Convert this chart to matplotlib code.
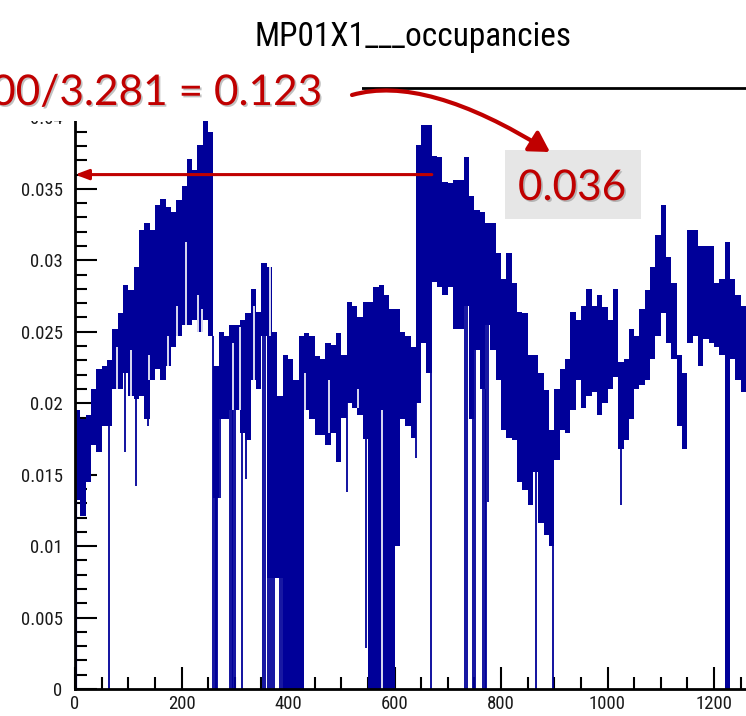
import matplotlib
matplotlib.use("Agg")
import matplotlib.pyplot as plt
import numpy as np
from matplotlib import font_manager
from matplotlib.font_manager import FontProperties
from matplotlib.patches import Rectangle, FancyArrowPatch
from matplotlib.path import Path
import matplotlib.patheffects as pe

# ---------------- data ----------------
title = "MP01X1___occupancies"
block_width = 10
channel_edges = list(range(0, 1270, 10))  # 126 blocks of 10 channels

# upper / lower envelope of the occupancy in each 10-channel block
occ_high = [
    0.0195, 0.0189, 0.0192, 0.0210, 0.0224, 0.0226, 0.0230, 0.0252, 0.0263, 0.0283,
    0.0279, 0.0295, 0.0321, 0.0326, 0.0321, 0.0339, 0.0343, 0.0337, 0.0334, 0.0342,
    0.0352, 0.0371, 0.0363, 0.0381, 0.0398, 0.0390, 0.0226, 0.0250, 0.0247, 0.0255,
    0.0255, 0.0258, 0.0263, 0.0280, 0.0264, 0.0298, 0.0295, 0.0250, 0.0205, 0.0234,
    0.0231, 0.0216, 0.0247, 0.0249, 0.0247, 0.0233, 0.0231, 0.0242, 0.0241, 0.0249,
    0.0234, 0.0271, 0.0268, 0.0260, 0.0271, 0.0271, 0.0281, 0.0283, 0.0276, 0.0266,
    0.0266, 0.0250, 0.0247, 0.0239, 0.0381, 0.0395, 0.0395, 0.0373, 0.0372, 0.0355,
    0.0354, 0.0356, 0.0356, 0.0372, 0.0345, 0.0335, 0.0334, 0.0326, 0.0326, 0.0305,
    0.0287, 0.0305, 0.0284, 0.0264, 0.0263, 0.0234, 0.0234, 0.0221, 0.0209, 0.0181,
    0.0210, 0.0224, 0.0231, 0.0264, 0.0258, 0.0268, 0.0280, 0.0268, 0.0276, 0.0267,
    0.0258, 0.0280, 0.0229, 0.0231, 0.0252, 0.0247, 0.0266, 0.0279, 0.0295, 0.0318,
    0.0339, 0.0302, 0.0284, 0.0234, 0.0221, 0.0321, 0.0321, 0.0310, 0.0310, 0.0310,
    0.0284, 0.0287, 0.0313, 0.0287, 0.0276, 0.0268,
]
occ_low = [
    0.0132, 0.0121, 0.0145, 0.0171, 0.0166, 0.0184, 0.0184, 0.0210, 0.0210, 0.0221,
    0.0205, 0.0203, 0.0205, 0.0189, 0.0216, 0.0224, 0.0216, 0.0226, 0.0239, 0.0247,
    0.0255, 0.0255, 0.0258, 0.0250, 0.0258, 0.0247, 0.0134, 0.0189, 0.0189, 0.0195,
    0.0195, 0.0179, 0.0174, 0.0216, 0.0210, 0.0247, 0.0078, 0.0078, 0.0078, 0.0,
    0.0, 0.0, 0.0, 0.0195, 0.0189, 0.0178, 0.0178, 0.0171, 0.0179, 0.0159,
    0.0190, 0.0200, 0.0197, 0.0192, 0.0175, 0.0, 0.0, 0.0, 0.0, 0.0,
    0.0100, 0.0189, 0.0184, 0.0176, 0.0200, 0.0242, 0.0221, 0.0285, 0.0281, 0.0276,
    0.0281, 0.0252, 0.0252, 0.0268, 0.0189, 0.0237, 0.0210, 0.0255, 0.0237, 0.0216,
    0.0181, 0.0176, 0.0174, 0.0145, 0.0139, 0.0129, 0.0152, 0.0116, 0.0108, 0.0100,
    0.0160, 0.0181, 0.0179, 0.0195, 0.0216, 0.0197, 0.0205, 0.0208, 0.0192, 0.0200,
    0.0210, 0.0218, 0.0168, 0.0174, 0.0189, 0.0210, 0.0213, 0.0216, 0.0231, 0.0247,
    0.0263, 0.0242, 0.0231, 0.0184, 0.0168, 0.0242, 0.0247, 0.0226, 0.0245, 0.0242,
    0.0239, 0.0234, 0.0, 0.0231, 0.0216, 0.0208,
]

# dead channels (occupancy 0)
dead_channels = [64, 259, 262, 264, 266, 291, 294, 297, 300, 313, 352, 356, 362,
                 366, 370, 374, 385, 388, 668, 732, 736, 746, 750, 766, 769, 772,
                 866, 898]
# single low channels
dip_channels = [94, 114, 136, 272, 321, 510, 545, 640, 775, 1024]
dip_values = [0.0166, 0.0142, 0.0184, 0.0134, 0.0147, 0.0138, 0.0029, 0.0162,
              0.0131, 0.0129]
# short runs of high channels (gaps under the band): channel, top, bottom
gap_channels = [78, 105, 139, 174, 191, 208, 230, 238, 296, 310, 335, 365, 432,
                476, 531, 576, 654]
gap_tops = [0.0239, 0.0237, 0.0234, 0.0247, 0.0268, 0.0313, 0.0276, 0.0266, 0.0242,
            0.0253, 0.0268, 0.0295, 0.0221, 0.0216, 0.0210, 0.0195, 0.0242]
gap_bottoms = [0.0210, 0.0205, 0.0216, 0.0208, 0.0239, 0.0255, 0.0250, 0.0250,
               0.0195, 0.0195, 0.0216, 0.0247, 0.0195, 0.0179, 0.0197, 0.0, 0.0200]

x_ticks = [0, 200, 400, 600, 800, 1000, 1200]
y_ticks = [0, 0.005, 0.01, 0.015, 0.02, 0.025, 0.03, 0.035, 0.04]
y_tick_labels = ["0", "0.005", "0.01", "0.015", "0.02", "0.025", "0.03", "0.035", "0.04"]

marked_value = 0.036
marked_channel = 670
ratio_text = "00/3.281 = 0.123"
value_text = "0.036"

# ---------------- style ----------------
W, H, DPI = 746, 716, 100
HIST_COLOR = "#000099"
RED = "#C00000"


def find_font(cands):
    for fam, st in cands:
        try:
            p = font_manager.findfont(FontProperties(family=fam, stretch=st),
                                      fallback_to_default=False)
        except Exception:
            continue
        if st == "normal" or "ondensed" in p or "arrow" in p:
            return p
    return None


cond_path = find_font([("Liberation Sans Narrow", "normal"), ("Arial Narrow", "normal"),
                       ("Roboto Condensed", "normal"), ("Open Sans Condensed", "normal"),
                       ("Noto Sans", "condensed"), ("DejaVu Sans", "condensed"),
                       ("Roboto", "condensed"), ("Open Sans", "condensed"),
                       ("Liberation Sans", "normal")])
red_path = find_font([("Lato", "normal"), ("Open Sans", "normal")])


def fp_cond(size):
    if cond_path:
        return FontProperties(fname=cond_path, size=size)
    return FontProperties(family="DejaVu Sans", size=size)


def fp_red(size):
    if red_path:
        return FontProperties(fname=red_path, size=size)
    return FontProperties(family="DejaVu Sans", size=size)


fig = plt.figure(figsize=(W / DPI, H / DPI), dpi=DPI)
fig.patch.set_facecolor("white")
renderer = fig.canvas.get_renderer()


def fit_size(text, fpf, target_px, start=20.0):
    t = fig.text(0, 0, text, fontproperties=fpf(start))
    w = t.get_window_extent(renderer).width
    t.remove()
    return start * target_px / w


title_fs = fit_size(title, fp_cond, 317)
tick_fs = fit_size("0.035", fp_cond, 42)

ax_left, ax_right, ax_top, ax_bottom = 75, 746, 88, 689
ax = fig.add_axes([ax_left / W, 1 - ax_bottom / H, (ax_right - ax_left) / W,
                   (ax_bottom - ax_top) / H])
ax.set_xlim(0, 1260)
ax.set_ylim(0, 0.04206)

edges = np.array(channel_edges)
hi = np.array(occ_high)
lo = np.array(occ_low)
ax.stairs(hi, edges, baseline=lo, fill=True, color=HIST_COLOR, zorder=2, lw=0)
ax.vlines(edges[0], 0, hi[0], color=HIST_COLOR, lw=3, zorder=2)

dead = np.array(dead_channels)
ax.vlines(dead + 0.5, 0, lo[dead // block_width], color=HIST_COLOR, lw=1.3, zorder=2)
dips = np.array(dip_channels)
ax.vlines(dips + 0.5, np.array(dip_values), lo[dips // block_width], color=HIST_COLOR,
          lw=1.3, zorder=2)
ax.vlines(np.array(gap_channels) + 0.5, gap_bottoms, gap_tops, color="white",
          lw=1.2, zorder=2.5)

# axes styling (ROOT-like)
for s in ["left", "bottom", "top"]:
    ax.spines[s].set_linewidth(2.0)
    ax.spines[s].set_color("black")
    ax.spines[s].set_zorder(3)
ax.spines["right"].set_visible(False)

ax.set_xticks(x_ticks)
ax.set_xticklabels([str(t) for t in x_ticks])
ax.set_xticks(np.arange(0, 1261, 50), minor=True)
ax.set_yticks(y_ticks)
ax.set_yticklabels(y_tick_labels)
ax.set_yticks(np.arange(0, 0.0421, 0.001), minor=True)
ax.tick_params(which="major", direction="in", length=15.5, width=1.5, color="black",
               labelcolor="#1a1a1a")
ax.tick_params(which="minor", direction="in", length=8.5, width=1.5, color="black")
ax.tick_params(axis="y", which="major", pad=9)
ax.tick_params(axis="x", which="major", pad=4)
for lab in ax.get_xticklabels() + ax.get_yticklabels():
    lab.set_fontproperties(fp_cond(tick_fs))

# title
fig.text(413 / W, 1 - 37 / H, title, ha="center", va="center",
         fontproperties=fp_cond(title_fs), color="black")

# white text box covering the top-left of the frame
fig.add_artist(Rectangle((0, 1 - 121 / H), 362 / W, 64 / H, transform=fig.transFigure,
                         facecolor="white", edgecolor="none", zorder=5))

shadow = [pe.withSimplePatchShadow(offset=(1.2, -1.2), shadow_rgbFace="#777777",
                                   alpha=0.45)]
fig.text(322 / W, 1 - 105 / H, ratio_text, ha="right", va="baseline",
         fontproperties=fp_red(30.5), color=RED, zorder=6, path_effects=shadow)

# gray box with value
fig.add_artist(Rectangle((505 / W, 1 - 219 / H), 136 / W, 69 / H,
                         transform=fig.transFigure, facecolor="#E6E6E6",
                         edgecolor="none", zorder=5))
fig.text(572 / W, 1 - 200 / H, value_text, ha="center", va="baseline",
         fontproperties=fp_red(30.5), color=RED, zorder=6, path_effects=shadow)

# curved arrow (quadratic curve skewed towards its start)
p0 = (352 / W, 1 - 95 / H)
pc = (425 / W, 1 - 74 / H)
p2 = (550 / W, 1 - 152 / H)
curve = Path([p0, pc, p2], [Path.MOVETO, Path.CURVE3, Path.CURVE3])
arr = FancyArrowPatch(path=curve, transform=fig.transFigure,
                      arrowstyle="-|>,head_length=0.6,head_width=0.35",
                      mutation_scale=20, lw=3, color=RED, zorder=7)
fig.add_artist(arr)

# horizontal arrow at the marked value
ax.annotate("", xy=(0, marked_value), xytext=(marked_channel, marked_value),
            arrowprops=dict(arrowstyle="-|>,head_length=0.8,head_width=0.3",
                            color=RED, lw=2.2, shrinkA=0, shrinkB=0),
            zorder=4, annotation_clip=False)

fig.savefig("out.png", dpi=DPI, facecolor="white")
